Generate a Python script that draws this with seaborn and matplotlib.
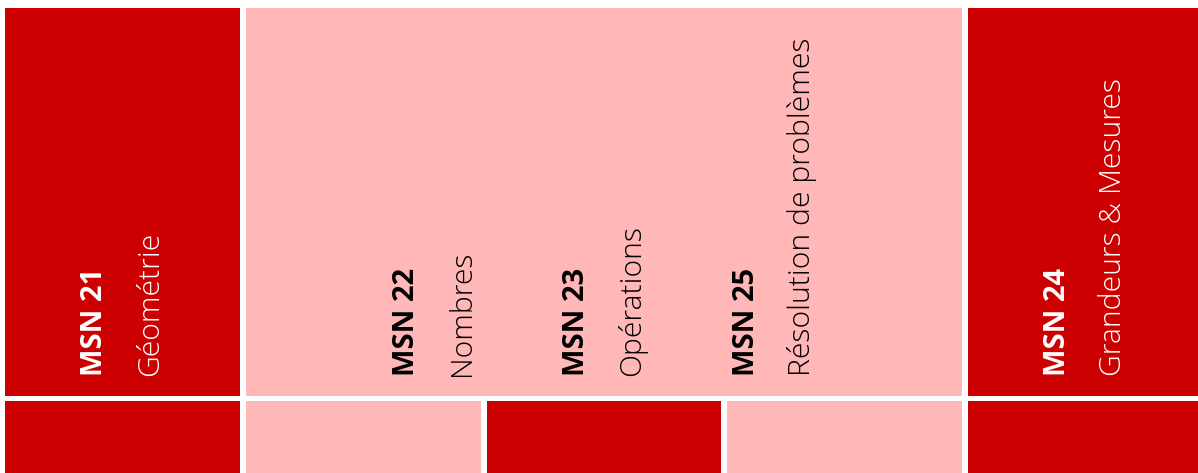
import seaborn as sns
from matplotlib import pyplot as plt

# domain codes and names, in the order they appear from left to right
codes = ["MSN 21", "MSN 22", "MSN 23", "MSN 25", "MSN 24"]
names = ["Géométrie", "Nombres", "Opérations", "Résolution de problèmes", "Grandeurs & Mesures"]
label_block = [0, 1, 1, 1, 2]

# top row: blocks spanning grid columns
top_span = [1, 3, 1]
top_level = ["fort", "faible", "fort"]

# bottom row: one cell per column
bottom_level = ["fort", "faible", "fort", "faible", "fort"]

colors = {"fort": "#CC0000", "faible": "#FFB7B7"}
text_colors = {"fort": "white", "faible": "black"}

# layout (pixels)
pitch = 240.75
gap = 6
left0 = 5
top_y, top_h = 8, 388
bot_y, bot_h = 401, 100
label_step = 170
label_y = 376


def main():
    sns.set_theme(style="white")
    plt.rcParams["font.family"] = ["Open Sans", "DejaVu Sans"]

    fig = plt.figure(figsize=(11.98, 4.73), dpi=100)
    ax = fig.add_axes([0, 0, 1, 1])
    ax.set_xlim(0, 1198)
    ax.set_ylim(473, 0)
    ax.axis("off")

    # top row blocks
    starts = []
    col = 0
    for span, lvl in zip(top_span, top_level):
        x0 = left0 + col * pitch
        w = span * pitch - gap
        starts.append((x0, w))
        ax.bar(x0, top_h, width=w, bottom=top_y, align="edge", color=colors[lvl], linewidth=0)
        col += span

    # bottom row cells
    for i, lvl in enumerate(bottom_level):
        x0 = left0 + i * pitch
        ax.bar(x0, bot_h, width=pitch - gap, bottom=bot_y, align="edge", color=colors[lvl], linewidth=0)

    # labels, spread evenly inside their block
    for b, (x0, w) in enumerate(starts):
        idx = [i for i, lb in enumerate(label_block) if lb == b]
        n = len(idx)
        for j, i in enumerate(idx):
            cx = x0 + w / 2 + (j - (n - 1) / 2) * label_step - 4
            tc = text_colors[top_level[b]]
            ax.text(cx - 16, label_y, codes[i], rotation=90, rotation_mode="anchor",
                    ha="left", va="baseline", fontsize=21, fontweight="bold", color=tc)
            ax.text(cx + 40, label_y, names[i], rotation=90, rotation_mode="anchor",
                    ha="left", va="baseline", fontsize=21.7, fontweight="light", color=tc)

    fig.savefig("out.png", dpi=100)
    plt.close(fig)


main()
